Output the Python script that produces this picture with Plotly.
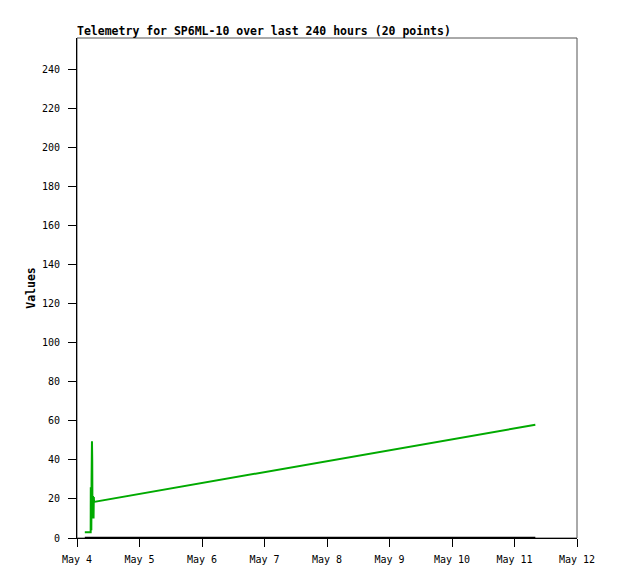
import plotly.graph_objects as go
from datetime import datetime, timedelta

base = datetime(2024, 5, 4)
hours = [3.0, 3.5, 4.0, 4.5, 5.0, 5.25, 5.3, 5.4, 5.5, 5.6, 5.75, 5.85,
         5.95, 6.05, 6.15, 6.25, 6.35, 6.45, 6.55, 176.0]
green_vals = [3, 3, 3, 3, 3, 3, 26, 12, 4, 30, 49.5, 40,
              10, 15, 21.5, 20, 10, 21, 18.5, 58]
black_vals = [0] * len(hours)
times = [base + timedelta(hours=h) for h in hours]

title_text = "Telemetry for SP6ML-10 over last 240 hours (20 points)"
y_ticks = list(range(0, 241, 20))
x_ticks = [base + timedelta(days=d) for d in range(0, 9)]
x_labels = ["May %d" % (4 + d) for d in range(0, 9)]

fig = go.Figure()
fig.add_trace(go.Scatter(x=times, y=black_vals, mode="lines",
                         line=dict(color="#000000", width=2.5), showlegend=False))
fig.add_trace(go.Scatter(x=times, y=green_vals, mode="lines",
                         line=dict(color="#00AA00", width=2), showlegend=False))

mono = "DejaVu Sans Mono"
W, H = 610, 571
fig.update_layout(
    width=W, height=H,
    margin=dict(l=69, r=41, t=30, b=41),
    paper_bgcolor="white", plot_bgcolor="white",
    title=dict(text="<b>" + title_text + "</b>", x=69 / W, xanchor="left",
               y=1 - 23 / H, yanchor="middle",
               font=dict(family=mono, size=11.5, color="black")),
    xaxis=dict(range=[base, base + timedelta(days=8)], tickvals=x_ticks,
               ticktext=x_labels, ticks="outside", ticklen=8, tickcolor="black",
               showline=True, linecolor="black", linewidth=1, showgrid=False,
               zeroline=False, ticklabelstandoff=4,
               tickfont=dict(family=mono, size=10, color="black")),
    yaxis=dict(range=[0, 256], tickvals=y_ticks, ticks="outside", ticklen=8,
               tickcolor="black", showline=True, linecolor="black", linewidth=1,
               showgrid=False, zeroline=False, ticklabelstandoff=6,
               tickfont=dict(family=mono, size=10, color="black"),
               title=dict(text="<b>Values</b>", standoff=3,
                          font=dict(family=mono, size=11.5, color="black"))),
    shapes=[dict(type="rect", xref="paper", yref="paper", x0=0, x1=1, y0=0, y1=1,
                 line=dict(color="#555555", width=1), layer="below")],
)

fig.write_html("out.html")
